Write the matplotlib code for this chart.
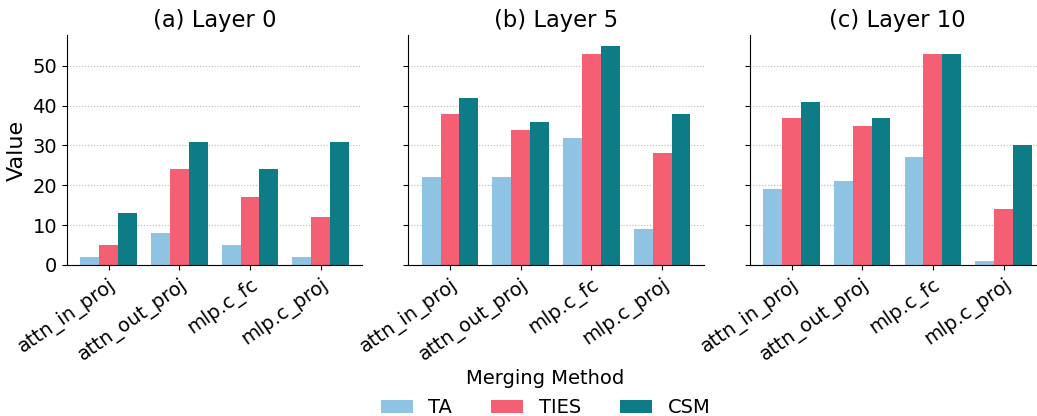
import numpy as np
import matplotlib.pyplot as plt

# data
modules = ['attn_in_proj', 'attn_out_proj', 'mlp.c_fc', 'mlp.c_proj']
methods = ['TA', 'TIES', 'CSM']
titles = ['(a) Layer 0', '(b) Layer 5', '(c) Layer 10']

layer0 = {'TA': [2, 8, 5, 2], 'TIES': [5, 24, 17, 12], 'CSM': [13, 31, 24, 31]}
layer5 = {'TA': [22, 22, 32, 9], 'TIES': [38, 34, 53, 28], 'CSM': [42, 36, 55, 38]}
layer10 = {'TA': [19, 21, 27, 1], 'TIES': [37, 35, 53, 14], 'CSM': [41, 37, 53, 30]}
layers = [layer0, layer5, layer10]

colors = {'TA': '#8ec3e3', 'TIES': '#f45f74', 'CSM': '#0e7c86'}

fig, axes = plt.subplots(1, 3, figsize=(10.37, 4.16), dpi=100, sharey=True)
x = np.arange(len(modules))
w = 0.8 / 3

for ax, data, title in zip(axes, layers, titles):
    for i, m in enumerate(methods):
        ax.bar(x + (i - 1) * w, data[m], width=w, color=colors[m], label=m, zorder=2)
    ax.set_title(title, fontsize=16.3)
    ax.set_xticks(x)
    ax.set_xticklabels(modules, rotation=35, ha='right', fontsize=14,
                       rotation_mode='anchor')
    ax.tick_params(axis='y', labelsize=14)
    ax.grid(axis='y', linestyle=':', color='#bbbbbb', linewidth=0.8, zorder=0)
    ax.spines['top'].set_visible(False)
    ax.spines['right'].set_visible(False)

axes[0].set_ylabel('Value', fontsize=16)
axes[0].set_yticks([0, 10, 20, 30, 40, 50])

handles, labels = axes[0].get_legend_handles_labels()
fig.legend(handles, labels, title='Merging Method', loc='lower center',
           bbox_to_anchor=(0.526, -0.045), ncol=3, frameon=False, fontsize=14,
           title_fontsize=14, handlelength=1.65, columnspacing=2.0)

# the reference is clipped at the right edge, so the last panel runs past it
plt.subplots_adjust(left=0.0645, right=1.008, bottom=0.363, top=0.916, wspace=0.1556)
plt.savefig('out.png', dpi=100)
